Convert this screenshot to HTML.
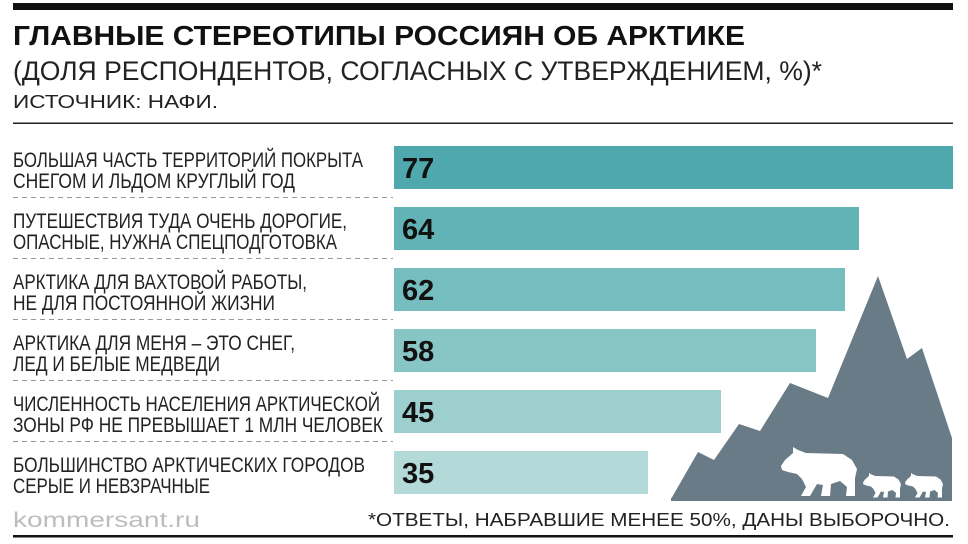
<!DOCTYPE html>
<html><head><meta charset="utf-8"><style>
html,body{margin:0;padding:0;background:#fff;width:968px;height:544px;overflow:hidden}
svg text{font-family:"Liberation Sans Narrow","Liberation Sans",sans-serif}
.l{font-size:21px;fill:#222}
.n{font-family:"Liberation Sans",sans-serif !important;font-weight:bold;font-size:29px;fill:#111}
</style></head><body>
<svg width="968" height="544" xmlns="http://www.w3.org/2000/svg">
<rect x="13" y="3" width="940" height="7" fill="#111"/>
<text x="13" y="45" font-family="Liberation Sans" font-weight="bold" font-size="28" textLength="732" lengthAdjust="spacingAndGlyphs" fill="#111">ГЛАВНЫЕ СТЕРЕОТИПЫ РОССИЯН ОБ АРКТИКЕ</text>
<text x="13" y="80" font-family="Liberation Sans" font-size="27" textLength="809" lengthAdjust="spacingAndGlyphs" fill="#222">(ДОЛЯ РЕСПОНДЕНТОВ, СОГЛАСНЫХ С УТВЕРЖДЕНИЕМ, %)*</text>
<text x="13" y="108" font-family="Liberation Sans" font-size="18" textLength="205" lengthAdjust="spacingAndGlyphs" fill="#222">ИСТОЧНИК: НАФИ.</text>
<rect x="13" y="122.5" width="940" height="1.5" fill="#222"/>

<g stroke="#999" stroke-width="1" stroke-dasharray="5,4">
<line x1="13" y1="197.5" x2="393" y2="197.5"/>
<line x1="13" y1="258.5" x2="393" y2="258.5"/>
<line x1="13" y1="319.5" x2="393" y2="319.5"/>
<line x1="13" y1="380.5" x2="393" y2="380.5"/>
<line x1="13" y1="441.5" x2="393" y2="441.5"/>
</g>

<polygon fill="#697b86" points="671,499 698,452 714,460 739,424 760,431 790,383 828,398 878,276 907,359 922,348 952,438 952,499"/>
<g fill="#fff">
<path transform="translate(781,447)" d="M0,19 L4,13 L12,6 L12,0 L17,3 L25,6 L62,7 L71,13 L76,22 L74,31 L74,49 L65,49 L66,40 L59,34 L50,37 L49,49 L40,49 L42,38 L36,37 L29,49 L20,49 L25,40 L21,32 L16,27 L7,25 L1,23 Z"/>
<path transform="translate(863,473) scale(0.5)" d="M0,19 L4,13 L12,6 L12,0 L17,3 L25,6 L62,7 L71,13 L76,22 L74,31 L74,49 L65,49 L66,40 L59,34 L50,37 L49,49 L40,49 L42,38 L36,37 L29,49 L20,49 L25,40 L21,32 L16,27 L7,25 L1,23 Z"/>
<path transform="translate(905,473) scale(0.5)" d="M0,19 L4,13 L12,6 L12,0 L17,3 L25,6 L62,7 L71,13 L76,22 L74,31 L74,49 L65,49 L66,40 L59,34 L50,37 L49,49 L40,49 L42,38 L36,37 L29,49 L20,49 L25,40 L21,32 L16,27 L7,25 L1,23 Z"/>
</g>
<rect x="671" y="498" width="281" height="3" fill="#697b86"/>

<rect x="394" y="146" width="559" height="43" fill="#4fa8ae"/>
<rect x="394" y="207" width="465" height="43" fill="#62b3b6"/>
<rect x="394" y="268" width="451" height="43" fill="#75bdbe"/>
<rect x="394" y="329" width="422" height="43" fill="#88c6c6"/>
<rect x="394" y="390" width="327" height="43" fill="#9ccfce"/>
<rect x="394" y="451" width="254" height="43" fill="#b3dad8"/>

<text class="n" x="402" y="178">77</text>
<text class="n" x="402" y="239">64</text>
<text class="n" x="402" y="300">62</text>
<text class="n" x="402" y="361">58</text>
<text class="n" x="402" y="422">45</text>
<text class="n" x="402" y="483">35</text>

<g class="l">
<text x="13" y="167" textLength="350" lengthAdjust="spacingAndGlyphs">БОЛЬШАЯ ЧАСТЬ ТЕРРИТОРИЙ ПОКРЫТА</text>
<text x="13" y="188" textLength="282" lengthAdjust="spacingAndGlyphs">СНЕГОМ И ЛЬДОМ КРУГЛЫЙ ГОД</text>
<text x="13" y="228" textLength="334" lengthAdjust="spacingAndGlyphs">ПУТЕШЕСТВИЯ ТУДА ОЧЕНЬ ДОРОГИЕ,</text>
<text x="13" y="249" textLength="324" lengthAdjust="spacingAndGlyphs">ОПАСНЫЕ, НУЖНА СПЕЦПОДГОТОВКА</text>
<text x="13" y="289" textLength="294" lengthAdjust="spacingAndGlyphs">АРКТИКА ДЛЯ ВАХТОВОЙ РАБОТЫ,</text>
<text x="13" y="310" textLength="262" lengthAdjust="spacingAndGlyphs">НЕ ДЛЯ ПОСТОЯННОЙ ЖИЗНИ</text>
<text x="13" y="350" textLength="282" lengthAdjust="spacingAndGlyphs">АРКТИКА ДЛЯ МЕНЯ – ЭТО СНЕГ,</text>
<text x="13" y="371" textLength="207" lengthAdjust="spacingAndGlyphs">ЛЕД И БЕЛЫЕ МЕДВЕДИ</text>
<text x="13" y="411" textLength="367" lengthAdjust="spacingAndGlyphs">ЧИСЛЕННОСТЬ НАСЕЛЕНИЯ АРКТИЧЕСКОЙ</text>
<text x="13" y="432" textLength="370" lengthAdjust="spacingAndGlyphs">ЗОНЫ РФ НЕ ПРЕВЫШАЕТ 1 МЛН ЧЕЛОВЕК</text>
<text x="13" y="472" textLength="352" lengthAdjust="spacingAndGlyphs">БОЛЬШИНСТВО АРКТИЧЕСКИХ ГОРОДОВ</text>
<text x="13" y="493" textLength="197" lengthAdjust="spacingAndGlyphs">СЕРЫЕ И НЕВЗРАЧНЫЕ</text>
</g>

<text x="13" y="527" font-family="Liberation Sans" font-size="21" textLength="187" lengthAdjust="spacingAndGlyphs" fill="#bdbdbd">kommersant.ru</text>
<text x="368" y="526" font-family="Liberation Sans" font-size="18" textLength="582" lengthAdjust="spacingAndGlyphs" fill="#222">*ОТВЕТЫ, НАБРАВШИЕ МЕНЕЕ 50%, ДАНЫ ВЫБОРОЧНО.</text>
<rect x="13" y="535" width="940" height="2.5" fill="#111"/>
</svg>
</body></html>
